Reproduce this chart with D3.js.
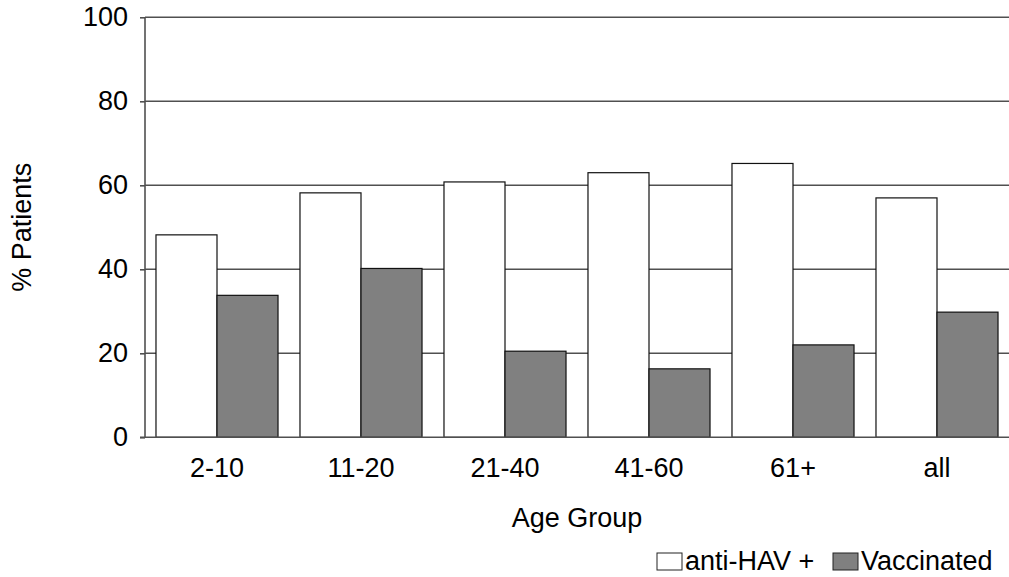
<!DOCTYPE html>
<html>
<head>
<meta charset="utf-8">
<script src="https://cdn.jsdelivr.net/npm/d3@7"></script>
<style>
  body { margin: 0; background: #fff; }
  svg { display: block; font-family: "Liberation Sans", Arial, sans-serif; }
</style>
</head>
<body>
<svg id="chart" width="1009" height="577"></svg>
<script>
const ageGroups = ["2-10", "11-20", "21-40", "41-60", "61+", "all"];
const seriesNames = ["anti-HAV +", "Vaccinated"];
const antiHav = [48.2, 58.2, 60.8, 63.0, 65.2, 57.0];
const vaccinated = [33.8, 40.2, 20.5, 16.3, 22.0, 29.8];
const yTicks = [0, 20, 40, 60, 80, 100];

const fills = { "anti-HAV +": "#ffffff", "Vaccinated": "#808080" };

const rows = ageGroups.map((g, i) => ({ group: g, "anti-HAV +": antiHav[i], "Vaccinated": vaccinated[i] }));

const svg = d3.select("#chart");
const plotLeft = 145, plotRight = 1009, plotTop = 17.3, plotBottom = 437.3;
const fontSize = 27;

const x = d3.scaleBand()
    .domain(ageGroups)
    .range([plotLeft, plotRight]);

const xSub = d3.scaleBand()
    .domain(seriesNames)
    .range([0, x.bandwidth()])
    .paddingOuter(0.18);

const y = d3.scaleLinear()
    .domain([0, 100])
    .range([plotBottom, plotTop]);

// gridlines
svg.append("g")
    .selectAll("line")
    .data(yTicks.slice(1))
    .join("line")
    .attr("x1", plotLeft)
    .attr("x2", plotRight)
    .attr("y1", d => y(d))
    .attr("y2", d => y(d))
    .attr("stroke", "#505050")
    .attr("stroke-width", 1.6);

// bars
svg.append("g")
    .selectAll("g")
    .data(rows)
    .join("g")
    .attr("transform", d => `translate(${x(d.group)},0)`)
    .selectAll("rect")
    .data(d => seriesNames.map(key => ({ key, value: d[key] })))
    .join("rect")
    .attr("x", d => xSub(d.key))
    .attr("y", d => y(d.value))
    .attr("width", xSub.bandwidth())
    .attr("height", d => y(0) - y(d.value))
    .attr("fill", d => fills[d.key])
    .attr("stroke", "#111")
    .attr("stroke-width", 1.2);

// y axis
svg.append("g")
    .attr("transform", `translate(${plotLeft},0)`)
    .call(d3.axisLeft(y).tickValues(yTicks).tickSize(5).tickPadding(12))
    .call(g => g.select(".domain").attr("stroke", "#505050").attr("stroke-width", 1.6).attr("d", `M0,${plotBottom}V${plotTop}`))
    .call(g => g.selectAll(".tick line").attr("stroke", "#505050").attr("stroke-width", 1.6))
    .call(g => g.selectAll(".tick text")
        .attr("font-size", fontSize)
        .attr("font-family", "Liberation Sans, Arial, sans-serif")
        .attr("fill", "#000"));

// x axis line
svg.append("line")
    .attr("x1", plotLeft - 5)
    .attr("x2", plotRight)
    .attr("y1", plotBottom)
    .attr("y2", plotBottom)
    .attr("stroke", "#505050")
    .attr("stroke-width", 1.6);

// x labels
svg.append("g")
    .selectAll("text")
    .data(ageGroups)
    .join("text")
    .attr("x", d => x(d) + x.bandwidth() / 2)
    .attr("y", 477)
    .attr("text-anchor", "middle")
    .attr("font-size", fontSize)
    .text(d => d);

// axis titles
svg.append("text")
    .attr("x", (plotLeft + plotRight) / 2)
    .attr("y", 527)
    .attr("text-anchor", "middle")
    .attr("font-size", fontSize)
    .text("Age Group");

svg.append("text")
    .attr("transform", `translate(31,${(plotTop + plotBottom) / 2}) rotate(-90)`)
    .attr("text-anchor", "middle")
    .attr("font-size", fontSize)
    .text("% Patients");

// legend
const legend = svg.append("g").attr("font-size", fontSize);
const legendItems = [
    { key: "anti-HAV +", x: 657 },
    { key: "Vaccinated", x: 833 }
];
legend.selectAll("g")
    .data(legendItems)
    .join("g")
    .attr("transform", d => `translate(${d.x},553)`)
    .call(g => g.append("rect")
        .attr("width", 25)
        .attr("height", 17)
        .attr("fill", d => fills[d.key])
        .attr("stroke", "#222")
        .attr("stroke-width", 1))
    .call(g => g.append("text")
        .attr("x", 28)
        .attr("y", 17)
        .text(d => d.key));
</script>
</body>
</html>
